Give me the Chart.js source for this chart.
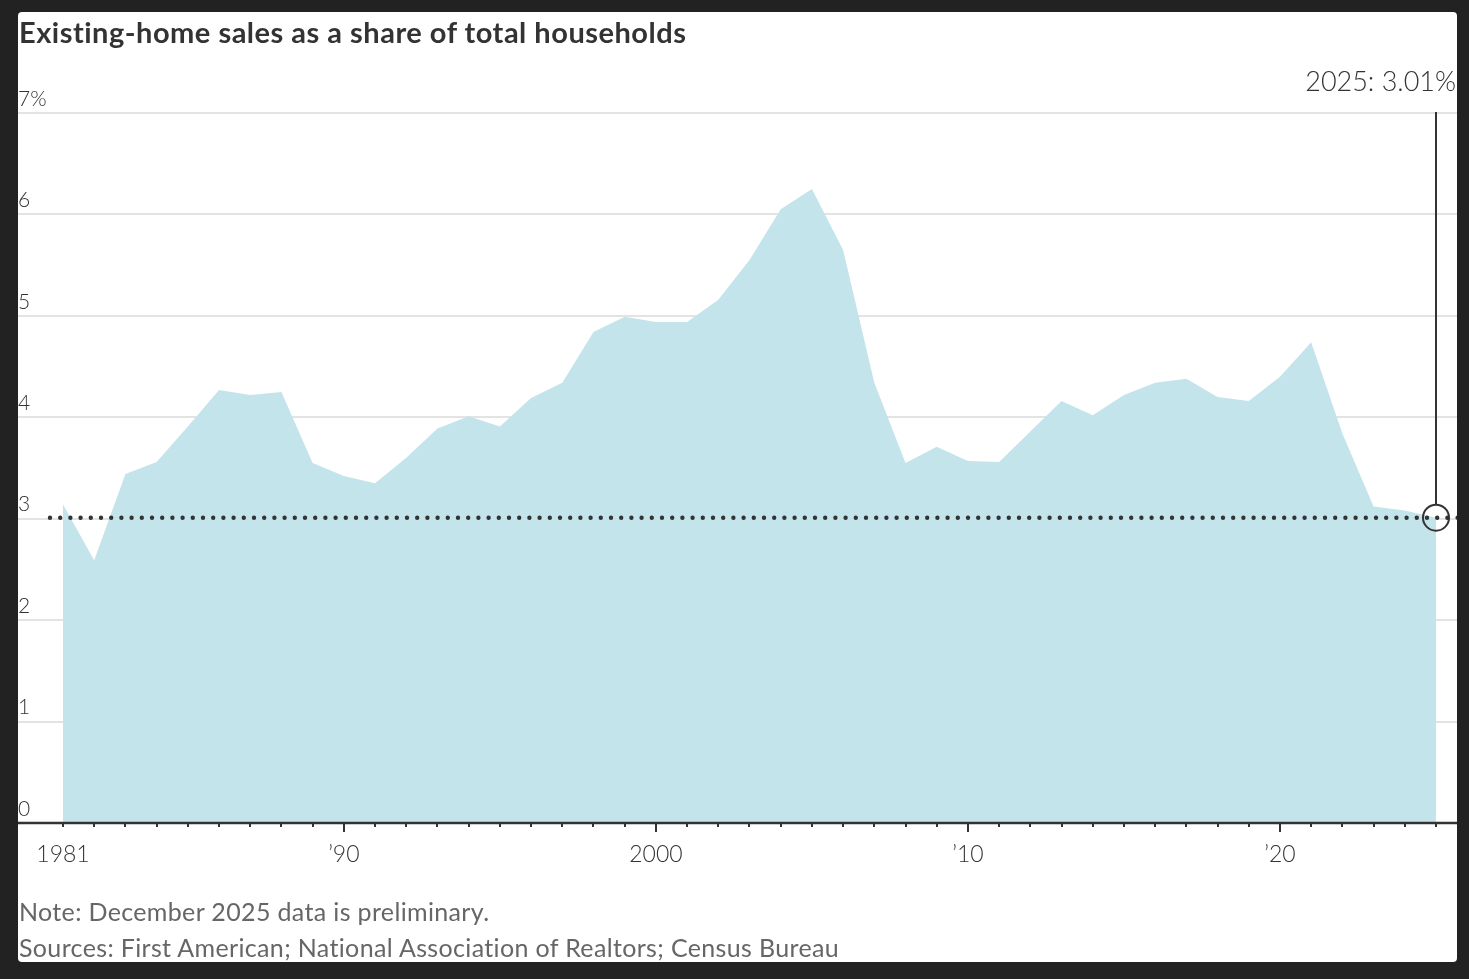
<!DOCTYPE html>
<html><head><meta charset="utf-8">
<script src="https://cdn.jsdelivr.net/npm/chart.js@4"></script>
<style>
html,body{margin:0;padding:0;background:#222;width:1469px;height:979px;overflow:hidden;}
#panel{position:absolute;left:18px;top:12px;width:1439px;height:950px;background:#fff;border-radius:4px;overflow:hidden;}
#title{position:absolute;left:1px;top:4px;font:700 29px/32px Lato,"Noto Sans",sans-serif;letter-spacing:0.5px;color:#333;white-space:nowrap;}
.note{position:absolute;left:1px;font:400 25px/28px Lato,"Noto Sans",sans-serif;letter-spacing:0.35px;color:#666;white-space:nowrap;}
canvas{position:absolute;left:0;top:0;}
</style></head>
<body>
<div id="panel">
  <canvas id="c" width="1439" height="950"></canvas>
  <div id="title">Existing-home sales as a share of total households</div>
  <div class="note" style="top:885px">Note: December 2025 data is preliminary.</div>
  <div class="note" style="top:921px">Sources: First American; National Association of Realtors; Census Bureau</div>
</div>
<script>
const years = [1981,1982,1983,1984,1985,1986,1987,1988,1989,1990,
               1991,1992,1993,1994,1995,1996,1997,1998,1999,2000,
               2001,2002,2003,2004,2005,2006,2007,2008,2009,2010,
               2011,2012,2013,2014,2015,2016,2017,2018,2019,2020,
               2021,2022,2023,2024,2025];
const shares = [3.14,2.59,3.44,3.56,3.91,4.27,4.22,4.25,3.55,3.42,
                3.35,3.60,3.89,4.01,3.91,4.19,4.34,4.84,4.99,4.94,
                4.94,5.16,5.55,6.05,6.25,5.65,4.34,3.55,3.71,3.57,
                3.56,3.86,4.16,4.02,4.22,4.34,4.38,4.20,4.16,4.40,
                4.74,3.84,3.12,3.08,3.01];
const tickYears = [1981,1990,2000,2010,2020];
const tickLabels = ['1981','\u201990','2000','\u201910','\u201920'];
const yTicks = [0,1,2,3,4,5,6,7];
const yTickLabels = ['0','1','2','3','4','5','6','7%'];
const lastYear = years[years.length-1];
const lastValue = shares[shares.length-1];

const X_MIN = 1979.558, X_MAX = 2025.673;

const annot = {
  id:'annot',
  afterDraw(chart){
    const {ctx, chartArea:ca, scales:{x,y}} = chart;
    const ax = x.getPixelForValue(lastYear), ay = y.getPixelForValue(lastValue);
    ctx.save();
    ctx.strokeStyle='#333';
    ctx.lineWidth=2;
    years.forEach(yr=>{
      const px = Math.round(x.getPixelForValue(yr));
      const len = yr%10===0 ? 9 : 4;
      ctx.beginPath(); ctx.moveTo(px, ca.bottom); ctx.lineTo(px, ca.bottom+len); ctx.stroke();
    });
    ctx.lineWidth=2.5;
    ctx.beginPath(); ctx.moveTo(ca.left, ca.bottom); ctx.lineTo(ca.right, ca.bottom); ctx.stroke();
    // dotted reference line
    ctx.setLineDash([0,10.2]); ctx.lineCap='round'; ctx.lineWidth=4.4;
    ctx.beginPath(); ctx.moveTo(ca.left+32, ay); ctx.lineTo(ca.right+6, ay); ctx.stroke();
    ctx.setLineDash([]); ctx.lineCap='butt';
    // leader line + circle
    ctx.lineWidth=2;
    ctx.beginPath(); ctx.moveTo(ax, ca.top-1); ctx.lineTo(ax, ay-13); ctx.stroke();
    ctx.beginPath(); ctx.arc(ax, ay, 13, 0, Math.PI*2); ctx.stroke();
    ctx.fillStyle='#333'; ctx.font='300 27px Lato, "Noto Sans", sans-serif';
    ctx.textAlign='right'; ctx.textBaseline='middle';
    ctx.fillText(lastYear + ': ' + lastValue.toFixed(2) + '%', ca.right-1, ca.top-31);
    ctx.restore();
  }
};

new Chart(document.getElementById('c'), {
  type:'line',
  data:{datasets:[{
    data: years.map((yr,i)=>({x:yr, y:shares[i]})),
    fill:'origin', backgroundColor:'#c4e4ec', borderWidth:0, pointRadius:0, tension:0
  }]},
  options:{
    responsive:false, animation:false, devicePixelRatio:1,
    layout:{padding:{top:101,bottom:79,left:0,right:0}},
    plugins:{legend:{display:false}, tooltip:{enabled:false}},
    scales:{
      x:{type:'linear', min:X_MIN, max:X_MAX, z:1,
        grid:{display:false, drawTicks:false},
        border:{display:false},
        afterBuildTicks:s=>{ s.ticks = tickYears.map(v=>({value:v})); },
        afterFit:s=>{ s.height = 60; },
        ticks:{autoSkip:false, maxRotation:0, padding:18, color:'#333',
          font:{family:'Lato', size:23, weight:300},
          callback:(v)=>tickLabels[tickYears.indexOf(v)]}
      },
      y:{min:0, max:7, z:1,
        afterBuildTicks:s=>{ s.ticks = yTicks.map(v=>({value:v})); },
        afterFit:s=>{ s.width = 0; },
        border:{display:false},
        grid:{color:'#e3e3e3', lineWidth:2, drawTicks:false},
        ticks:{mirror:true, padding:0, labelOffset:-14, color:'#333',
          font:{family:'Lato', size:21, weight:300},
          callback:(v)=>yTickLabels[yTicks.indexOf(v)]}
      }
    }
  },
  plugins:[annot]
});
</script>
</body></html>
